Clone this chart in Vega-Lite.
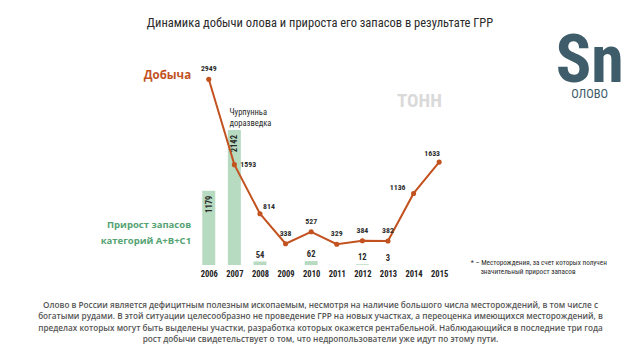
{
  "$schema": "https://vega.github.io/schema/vega-lite/v6.json",
  "autosize": {"type": "none"},
  "width": 640,
  "height": 220,
  "padding": {"top": 45, "bottom": 95, "left": 0, "right": 0},
  "background": "white",
  "config": {"view": {"stroke": null}},
  "title": {
    "text": "Динамика добычи олова и прироста его запасов в результате ГРР",
    "font": "Roboto Condensed, Roboto, sans-serif",
    "fontSize": 12.5,
    "fontWeight": "normal",
    "color": "#2b2b2b",
    "anchor": "middle",
    "baseline": "alphabetic",
    "offset": 6,
    "dy": 17
  },
  "datasets": {
    "prod": [
      {"year": 2006, "t": 2949},
      {"year": 2007, "t": 1593},
      {"year": 2008, "t": 814},
      {"year": 2009, "t": 338},
      {"year": 2010, "t": 527},
      {"year": 2011, "t": 329},
      {"year": 2012, "t": 384},
      {"year": 2013, "t": 382},
      {"year": 2014, "t": 1136},
      {"year": 2015, "t": 1633}
    ],
    "res": [
      {"year": 2006, "r": 1179},
      {"year": 2007, "r": 2142},
      {"year": 2008, "r": 54},
      {"year": 2010, "r": 62},
      {"year": 2012, "r": 12},
      {"year": 2013, "r": 3}
    ]
  },
  "layer": [
    {
      "data": {"name": "res"},
      "mark": {"type": "bar", "width": 13, "orient": "vertical", "color": "#b7dbc0"},
      "encoding": {
        "x": {
          "field": "year",
          "type": "quantitative",
          "scale": {"domain": [1998.04, 2022.65], "nice": false, "zero": false},
          "axis": {
            "values": [2006, 2007, 2008, 2009, 2010, 2011, 2012, 2013, 2014, 2015],
            "format": "d",
            "grid": false,
            "domain": false,
            "ticks": false,
            "labelPadding": 4,
            "labelFont": "Roboto Condensed, Roboto, sans-serif",
            "labelFontWeight": "bold",
            "labelFontSize": 8.5,
            "labelColor": "#222222",
            "title": [
              "Олово в России является дефицитным полезным ископаемым, несмотря на наличие большого числа месторождений, в том числе с",
              "богатыми рудами. В этой ситуации целесообразно не проведение ГРР на новых участках, а переоценка имеющихся месторождений, в",
              "пределах которых могут быть выделены участки, разработка которых окажется рентабельной. Наблюдающийся в последние три года",
              "рост добычи свидетельствует о том, что недропользователи уже идут по этому пути."
            ],
            "titleFont": "Open Sans, sans-serif",
            "titleFontSize": 8.2,
            "titleFontWeight": 600,
            "titleColor": "#555555",
            "titleLineHeight": 11.3,
            "titlePadding": 24,
            "titleBaseline": "top"
          }
        },
        "y": {"field": "r", "type": "quantitative", "scale": {"domain": [0, 3492], "nice": false, "zero": true}, "axis": null}
      }
    },
    {
      "data": {"name": "res"},
      "transform": [{"filter": "datum.r > 500"}],
      "mark": {"type": "text", "angle": 270, "align": "right", "baseline": "middle", "dx": -5,
               "font": "Roboto Condensed, Roboto, sans-serif", "fontWeight": "bold", "fontSize": 8.5, "color": "#2b2b2b"},
      "encoding": {
        "x": {"field": "year", "type": "quantitative"},
        "y": {"field": "r", "type": "quantitative"},
        "text": {"field": "r", "type": "quantitative"}
      }
    },
    {
      "data": {"name": "res"},
      "transform": [{"filter": "datum.r < 500"}],
      "mark": {"type": "text", "baseline": "middle", "dy": -7,
               "font": "Roboto Condensed, Roboto, sans-serif", "fontWeight": "bold", "fontSize": 8.5, "color": "#2b2b2b"},
      "encoding": {
        "x": {"field": "year", "type": "quantitative"},
        "y": {"field": "r", "type": "quantitative"},
        "text": {"field": "r", "type": "quantitative"}
      }
    },
    {
      "data": {"name": "prod"},
      "mark": {"type": "line", "color": "#c2521f", "strokeWidth": 2},
      "encoding": {
        "x": {"field": "year", "type": "quantitative"},
        "y": {"field": "t", "type": "quantitative"}
      }
    },
    {
      "data": {"name": "prod"},
      "mark": {"type": "circle", "color": "#c2521f", "opacity": 1, "size": 26},
      "encoding": {
        "x": {"field": "year", "type": "quantitative"},
        "y": {"field": "t", "type": "quantitative"}
      }
    },
    {
      "data": {"name": "prod"},
      "transform": [{"filter": "datum.year != 2007 && datum.year != 2008 && datum.year < 2014"}],
      "mark": {"type": "text", "baseline": "middle", "dy": -10,
               "font": "Roboto Condensed, Roboto, sans-serif", "fontWeight": "bold", "fontSize": 7.8, "color": "#2b2b2b"},
      "encoding": {
        "x": {"field": "year", "type": "quantitative"},
        "y": {"field": "t", "type": "quantitative"},
        "text": {"field": "t", "type": "quantitative"}
      }
    },
    {
      "data": {"name": "prod"},
      "transform": [{"filter": "datum.year == 2007"}],
      "mark": {"type": "text", "baseline": "middle", "align": "left", "dx": 6,
               "font": "Roboto Condensed, Roboto, sans-serif", "fontWeight": "bold", "fontSize": 7.8, "color": "#2b2b2b"},
      "encoding": {
        "x": {"field": "year", "type": "quantitative"},
        "y": {"field": "t", "type": "quantitative"},
        "text": {"field": "t", "type": "quantitative"}
      }
    },
    {
      "data": {"name": "prod"},
      "transform": [{"filter": "datum.year == 2008"}],
      "mark": {"type": "text", "baseline": "middle", "align": "center", "dx": 9, "dy": -7,
               "font": "Roboto Condensed, Roboto, sans-serif", "fontWeight": "bold", "fontSize": 7.8, "color": "#2b2b2b"},
      "encoding": {
        "x": {"field": "year", "type": "quantitative"},
        "y": {"field": "t", "type": "quantitative"},
        "text": {"field": "t", "type": "quantitative"}
      }
    },
    {
      "data": {"name": "prod"},
      "transform": [{"filter": "datum.year == 2014"}],
      "mark": {"type": "text", "baseline": "middle", "align": "right", "dx": -8, "dy": -5,
               "font": "Roboto Condensed, Roboto, sans-serif", "fontWeight": "bold", "fontSize": 7.8, "color": "#2b2b2b"},
      "encoding": {
        "x": {"field": "year", "type": "quantitative"},
        "y": {"field": "t", "type": "quantitative"},
        "text": {"field": "t", "type": "quantitative"}
      }
    },
    {
      "data": {"name": "prod"},
      "transform": [{"filter": "datum.year == 2015"}],
      "mark": {"type": "text", "baseline": "middle", "align": "center", "dx": -7, "dy": -8,
               "font": "Roboto Condensed, Roboto, sans-serif", "fontWeight": "bold", "fontSize": 7.8, "color": "#2b2b2b"},
      "encoding": {
        "x": {"field": "year", "type": "quantitative"},
        "y": {"field": "t", "type": "quantitative"},
        "text": {"field": "t", "type": "quantitative"}
      }
    },
    {
      "data": {"values": [{"label": "Добыча"}]},
      "mark": {"type": "text", "align": "right", "baseline": "middle",
               "font": "Open Sans, sans-serif", "fontWeight": "bold", "fontSize": 11.5, "color": "#c2521f"},
      "encoding": {"x": {"datum": 2005.31, "type": "quantitative"}, "y": {"datum": 3000, "type": "quantitative"}, "text": {"field": "label"}}
    },
    {
      "data": {"values": [{"label": "Прирост запасов"}]},
      "mark": {"type": "text", "align": "right", "baseline": "middle",
               "font": "Open Sans, sans-serif", "fontWeight": "bold", "fontSize": 9.5, "color": "#55a373"},
      "encoding": {"x": {"datum": 2005.31, "type": "quantitative"}, "y": {"datum": 635, "type": "quantitative"}, "text": {"field": "label"}}
    },
    {
      "data": {"values": [{"label": "категорий A+B+C1"}]},
      "mark": {"type": "text", "align": "right", "baseline": "middle",
               "font": "Open Sans, sans-serif", "fontWeight": "bold", "fontSize": 9.5, "color": "#55a373"},
      "encoding": {"x": {"datum": 2005.31, "type": "quantitative"}, "y": {"datum": 385, "type": "quantitative"}, "text": {"field": "label"}}
    },
    {
      "data": {"values": [{"label": "Чурпунньа"}]},
      "mark": {"type": "text", "align": "left", "baseline": "middle",
               "font": "Roboto Condensed, Roboto, sans-serif", "fontSize": 8.5, "color": "#2b2b2b"},
      "encoding": {"x": {"datum": 2006.81, "type": "quantitative"}, "y": {"datum": 2425, "type": "quantitative"}, "text": {"field": "label"}}
    },
    {
      "data": {"values": [{"label": "доразведка"}]},
      "mark": {"type": "text", "align": "left", "baseline": "middle",
               "font": "Roboto Condensed, Roboto, sans-serif", "fontSize": 8.5, "color": "#2b2b2b"},
      "encoding": {"x": {"datum": 2006.81, "type": "quantitative"}, "y": {"datum": 2260, "type": "quantitative"}, "text": {"field": "label"}}
    },
    {
      "data": {"values": [{"label": "ТОНН"}]},
      "mark": {"type": "text", "align": "center", "baseline": "middle",
               "font": "Roboto Condensed, Roboto, sans-serif", "fontWeight": "bold", "fontSize": 19, "color": "#dadada"},
      "encoding": {"x": {"datum": 2014.23, "type": "quantitative"}, "y": {"datum": 2603, "type": "quantitative"}, "text": {"field": "label"}}
    },
    {
      "data": {"values": [{"label": "Sn"}]},
      "mark": {"type": "text", "align": "center", "baseline": "alphabetic",
               "font": "Roboto Condensed, Roboto, sans-serif", "fontWeight": "bold", "fontSize": 66, "color": "#3e5c69"},
      "encoding": {"x": {"datum": 2020.88, "type": "quantitative"}, "y": {"datum": 2905, "type": "quantitative"}, "text": {"field": "label"}}
    },
    {
      "data": {"values": [{"label": "ОЛОВО"}]},
      "mark": {"type": "text", "align": "center", "baseline": "middle",
               "font": "Roboto Condensed, Roboto, sans-serif", "fontSize": 12.5, "color": "#3e5c69"},
      "encoding": {"x": {"datum": 2020.88, "type": "quantitative"}, "y": {"datum": 2715, "type": "quantitative"}, "text": {"field": "label"}}
    },
    {
      "data": {"values": [{"label": "* – Месторождения, за счет которых получен"}]},
      "mark": {"type": "text", "align": "left", "baseline": "middle",
               "font": "Roboto Condensed, Roboto, sans-serif", "fontSize": 7.2, "color": "#2b2b2b"},
      "encoding": {"x": {"datum": 2016.23, "type": "quantitative"}, "y": {"datum": 32, "type": "quantitative"}, "text": {"field": "label"}}
    },
    {
      "data": {"values": [{"label": "значительный прирост запасов"}]},
      "mark": {"type": "text", "align": "left", "baseline": "middle",
               "font": "Roboto Condensed, Roboto, sans-serif", "fontSize": 7.2, "color": "#2b2b2b"},
      "encoding": {"x": {"datum": 2016.62, "type": "quantitative"}, "y": {"datum": -111, "type": "quantitative"}, "text": {"field": "label"}}
    }
  ]
}
